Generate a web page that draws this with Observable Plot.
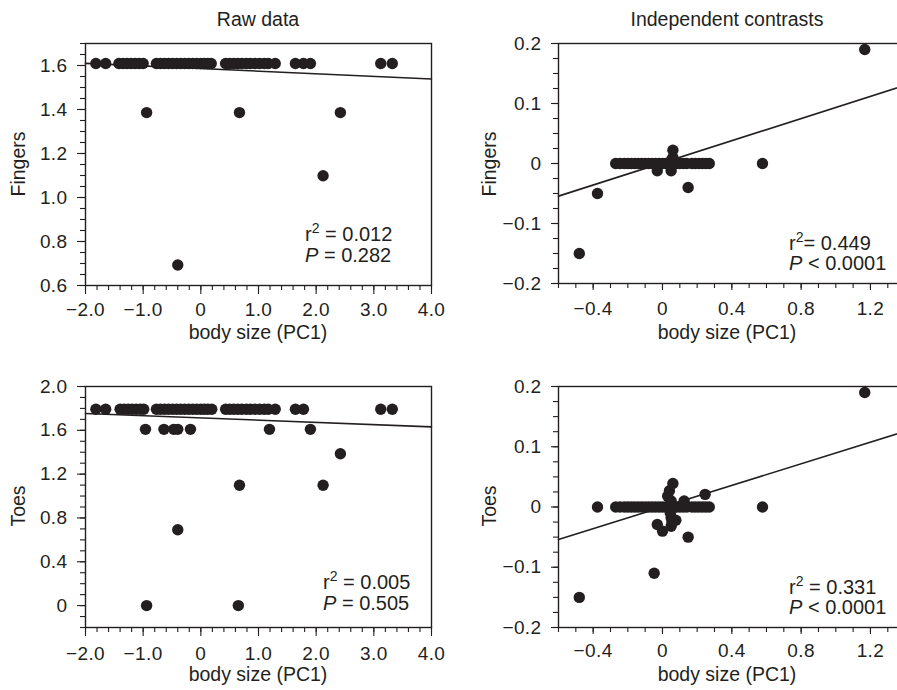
<!DOCTYPE html>
<html><head><meta charset="utf-8">
<script src="https://cdn.jsdelivr.net/npm/d3@7"></script>
<script src="https://cdn.jsdelivr.net/npm/@observablehq/plot@0.6"></script>
<style>
html,body{margin:0;padding:0;background:#fff;overflow:hidden;}
#wrap{position:relative;width:897px;height:690px;overflow:hidden;font-family:"Liberation Sans",Arial,sans-serif;color:#231f20;}
.t{position:absolute;white-space:nowrap;line-height:1;}
.c{transform:translate(-50%,-50%);}
.r{transform:translate(-50%,-50%) rotate(-90deg);}
sup{font-size:0.7em;position:relative;top:-0.2em;vertical-align:top;line-height:1;}
svg text{letter-spacing:0.4px;}
</style></head><body><div id="wrap"></div>
<script>
// ---------- data ----------
// Raw data, fingers: ln(number of fingers) levels and the body-size values at each level
const rawFingersLevels = [1.609, 1.386, 1.099, 0.693];
const rawFingersX = [
  [-1.82,-1.65,-1.42,-1.35,-1.28,-1.21,-1.14,-1.07,-1.00,
   -0.77,-0.70,-0.63,-0.56,-0.49,-0.42,-0.35,-0.28,-0.21,-0.14,-0.07,0.00,0.06,0.12,0.18,
   0.43,0.50,0.57,0.64,0.71,0.79,0.86,0.94,1.02,1.10,1.17,1.29,
   1.64,1.78,1.90, 3.12,3.32],
  [-0.94, 0.67, 2.42],
  [2.12],
  [-0.40]
];
// Raw data, toes
const rawToesLevels = [1.792, 1.609, 1.386, 1.099, 0.693, 0];
const rawToesX = [
  [-1.82,-1.65,-1.40,-1.33,-1.26,-1.19,-1.12,-1.05,-0.99,
   -0.77,-0.70,-0.63,-0.56,-0.49,-0.42,-0.35,-0.28,-0.21,-0.14,-0.07,0.00,0.06,0.12,0.19,
   0.43,0.50,0.57,0.64,0.71,0.79,0.86,0.94,1.02,1.10,1.17,1.29,
   1.64,1.78, 3.12,3.32],
  [-0.96,-0.64,-0.47,-0.40,-0.18,1.19,1.90],
  [2.42],
  [0.67,2.12],
  [-0.40],
  [-0.94,0.65]
];
// Independent contrasts, fingers
const conZeroX = [-0.27,-0.245,-0.22,-0.20,-0.18,-0.16,-0.14,-0.12,-0.10,-0.08,-0.06,-0.04,-0.02,0.00,
  0.02,0.03,0.04,0.05,0.06,0.07,0.08,0.10,0.12,0.14,0.17,0.19,0.21,0.23,0.25,0.27];
const conFingersX = [-0.48,-0.375,0.577,0.148,1.167,-0.03,0.05,0.06,0.06,0.05];
const conFingersY = [-0.15,-0.05,0.0,-0.04,0.19,-0.012,-0.012,0.022,0.01,0.005];
// Independent contrasts, toes
const conToesX = [-0.48,-0.375,0.577,1.167,-0.048,0.148,0.246,0.125,-0.03,0.0,0.05,0.077,0.05,0.03,0.04,0.06,0.05,0.045,0.055];
const conToesY = [-0.15,0.0,0.0,0.19,-0.11,-0.05,0.021,0.01,-0.029,-0.04,-0.032,-0.022,-0.018,0.018,0.027,0.039,0.01,-0.01,-0.025];
// regression fits (intercept a, slope b)
const fitRawFingers = {a: 1.586, b: -0.0118};
const fitRawToes = {a: 1.713, b: -0.0203};
const fitConFingers = {a: 0.001, b: 0.0923};
const fitConToes = {a: 0.000, b: 0.0897};
// tick labels
const rawXTicks = [-2, -1, 0, 1, 2, 3, 4];
const rawFingersYTicks = [0.6, 0.8, 1.0, 1.2, 1.4, 1.6];
const rawToesYTicks = [0, 0.4, 0.8, 1.2, 1.6, 2.0];
const conXTicks = [-0.4, 0, 0.4, 0.8, 1.2];
const conYTicks = [-0.2, -0.1, 0, 0.1, 0.2];
// texts
const columnTitles = ["Raw data", "Independent contrasts"];
const rowLabels = ["Fingers", "Toes"];
const xLabel = "body size (PC1)";
const stats = [
  ["r<sup>2</sup> = 0.012", "<i>P</i> = 0.282"],
  ["r<sup>2</sup>= 0.449", "<i>P</i> &lt; 0.0001"],
  ["r<sup>2</sup> = 0.005", "<i>P</i> = 0.505"],
  ["r<sup>2</sup> = 0.331", "<i>P</i> &lt; 0.0001"]
];

// ---------- drawing ----------
const INK = "#231f20";
const FONT = "Liberation Sans, Arial, sans-serif";
const TICK_FS = 19;
const wrap = document.getElementById("wrap");
const fmt = d => Math.abs(d) < 1e-9 ? "0" : d3.format(".1f")(d);
const rng = (a, b, s) => d3.range(Math.round(a / s), Math.round(b / s) + 1).map(i => +(i * s).toFixed(4));

const flatLevels = (levels, xs) => levels.flatMap((y, i) => xs[i].map(x => ({x, y})));
const pairs = (xs, ys) => xs.map((x, i) => ({x, y: ys[i]}));

function panel(c) {
  const mR = 10, mB = 50;
  const line = c.xd.map(x => ({x, y: c.fit.a + c.fit.b * x}));
  const svg = Plot.plot({
    width: c.mL + c.fw + mR, height: c.mT + c.fh + mB,
    marginLeft: c.mL, marginTop: c.mT, marginRight: mR, marginBottom: mB,
    x: {domain: c.xd, label: null},
    y: {domain: c.yd, label: null},
    style: {fontFamily: FONT, fontSize: TICK_FS + "px", color: INK, background: "transparent", overflow: "visible"},
    marks: [
      Plot.axisX(c.xMin, {tickSize: 5, tickFormat: () => "", label: null, strokeWidth: 1.1}),
      Plot.axisX(c.xMaj, {tickSize: c.xTick, tickPadding: c.xPad, tickFormat: fmt, label: null, strokeWidth: 1.1, fontSize: TICK_FS, fill: INK}),
      Plot.axisY(c.yMin, {tickSize: 5, tickFormat: () => "", label: null, strokeWidth: 1.1}),
      Plot.axisY(c.yMaj, {tickSize: c.yTick, tickPadding: c.yPad, tickFormat: fmt, label: null, strokeWidth: 1.1, fontSize: TICK_FS, fill: INK}),
      Plot.frame({stroke: INK, strokeWidth: 1.4}),
      Plot.line(line, {x: "x", y: "y", stroke: INK, strokeWidth: 1.6}),
      Plot.dot(c.pts, {x: "x", y: "y", r: 5.7, fill: INK, stroke: "none"})
    ]
  });
  svg.style.position = "absolute";
  svg.style.left = c.left + "px";
  svg.style.top = c.top + "px";
  wrap.appendChild(svg);
}

// top-left: raw fingers
panel({left: 0, top: 0, mL: 85, mT: 43, fw: 346, fh: 242,
  xd: [-2, 4], yd: [0.6, 1.7],
  xMaj: rawXTicks, xMin: rng(-2, 4, 0.2), yMaj: rawFingersYTicks, yMin: rng(0.6, 1.7, 0.05),
  xTick: 9, xPad: 8, yTick: 8, yPad: 10,
  pts: flatLevels(rawFingersLevels, rawFingersX), fit: fitRawFingers});
// top-right: contrasts fingers
panel({left: 470, top: 0, mL: 88, mT: 43, fw: 352, fh: 240,
  xd: [-0.6, 1.431], yd: [-0.2, 0.2],
  xMaj: conXTicks, xMin: rng(-0.6, 1.4, 0.1), yMaj: conYTicks, yMin: rng(-0.2, 0.2, 0.025),
  xTick: 7, xPad: 11, yTick: 7, yPad: 10,
  pts: pairs(conZeroX, conZeroX.map(() => 0)).concat(pairs(conFingersX, conFingersY)), fit: fitConFingers});
// bottom-left: raw toes
panel({left: 0, top: 343, mL: 85, mT: 43, fw: 346, fh: 241,
  xd: [-2, 4], yd: [-0.2, 2.0],
  xMaj: rawXTicks, xMin: rng(-2, 4, 0.2), yMaj: rawToesYTicks, yMin: rng(-0.2, 2.0, 0.1),
  xTick: 9, xPad: 10, yTick: 8, yPad: 10,
  pts: flatLevels(rawToesLevels, rawToesX), fit: fitRawToes});
// bottom-right: contrasts toes
panel({left: 470, top: 343, mL: 88, mT: 43, fw: 352, fh: 241,
  xd: [-0.6, 1.431], yd: [-0.2, 0.2],
  xMaj: conXTicks, xMin: rng(-0.6, 1.4, 0.1), yMaj: conYTicks, yMin: rng(-0.2, 0.2, 0.025),
  xTick: 7, xPad: 9, yTick: 7, yPad: 10,
  pts: pairs(conZeroX, conZeroX.map(() => 0)).concat(pairs(conToesX, conToesY)), fit: fitConToes});

// ---------- texts ----------
function text(html, x, y, cls, size) {
  const d = document.createElement("div");
  d.className = "t " + cls;
  d.style.left = x + "px"; d.style.top = y + "px"; d.style.fontSize = size + "px";
  d.innerHTML = html;
  wrap.appendChild(d);
}
const LS = 19.5;
text(columnTitles[0], 258, 20, "c", LS);
text(columnTitles[1], 727, 20, "c", LS);
text(rowLabels[0], 19, 164, "r", LS);
text(rowLabels[0], 490, 164, "r", LS);
text(rowLabels[1], 19, 506, "r", LS);
text(rowLabels[1], 490, 506, "r", LS);
text(xLabel, 258, 333, "c", LS);
text(xLabel, 727, 333, "c", LS);
text(xLabel, 258, 675, "c", LS);
text(xLabel, 727, 675, "c", LS);
// stats: left x, baselines
const statPos = [[305, 241, 262], [789, 250, 270], [323, 589, 610], [789, 594, 614]];
const SS = 20;
statPos.forEach((p, i) => {
  text(stats[i][0], p[0], p[1] - 0.85 * SS, "", SS);
  text(stats[i][1], p[0], p[2] - 0.85 * SS, "", SS);
});
</script>
</body></html>
